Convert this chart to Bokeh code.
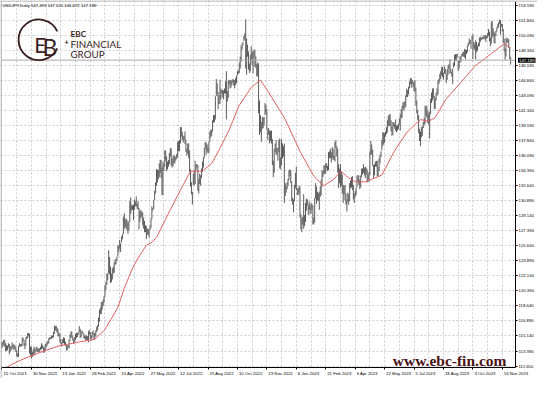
from bokeh.plotting import figure
from bokeh.models import Range1d, FixedTicker, Label, LabelSet, Span, PrintfTickFormatter, ColumnDataSource
from bokeh.embed import file_html
from bokeh.resources import INLINE
from bokeh.core.properties import value
import math

# ---------------- data ----------------
header_text = "USDJPY,Daily  147.493 147.520 146.672 147.189"
last_close = 147.189

date_labels = ["15 Oct 2021", "30 Nov 2021", "13 Jan 2022", "28 Feb 2022", "13 Apr 2022",
               "27 May 2022", "12 Jul 2022", "25 Aug 2022", "10 Oct 2022", "23 Nov 2022",
               "6 Jan 2023", "21 Feb 2023", "6 Apr 2023", "22 May 2023", "5 Jul 2023",
               "18 Aug 2023", "3 Oct 2023", "16 Nov 2023"]
bars_per_label = 32

price_ticks = [153.590, 151.840, 150.090, 148.340, 146.590, 144.840, 143.090, 141.340,
               139.590, 137.840, 136.090, 134.390, 132.640, 130.890, 129.140, 127.390,
               125.640, 123.890, 122.140, 120.390, 118.640, 116.890, 115.140, 113.390, 111.650]

# daily lows (one row per week, first bar = 15 Oct 2021)
bar_low = [
    113.7,
    113.9, 114.1, 113.9, 113.4, 113.4,
    113.5, 113.8, 113.0, 113.3, 113.5,
    113.8, 113.6, 113.5, 113.7, 113.3,
    112.8, 112.7, 112.7, 113.9, 113.9,
    113.9, 114.0, 114.6, 114.0, 113.6,
    114.0, 114.8, 114.9, 115.1, 113.1,
    112.9, 112.5, 112.7, 112.9, 112.9,
    113.1, 113.4, 113.3, 113.3, 113.2,
    113.3, 113.5, 113.6, 113.7, 113.2,
    113.2, 113.5, 113.8, 114.0, 114.2,
    114.3, 114.7, 114.8, 114.8, 114.9,
    115.0, 115.4, 115.8, 115.7, 115.5,
    115.1, 115.1, 114.4, 114.2, 113.9,
    114.3, 114.3, 114.1, 114.0, 113.5,
    113.45, 113.8, 113.7, 114.6, 115.0,
    114.9, 114.6, 114.2, 114.4, 114.7,
    114.9, 115.0, 115.3, 115.6, 114.9,
    115.0, 115.5, 115.3, 114.9, 114.8,
    114.6, 114.7, 114.7, 114.4, 115.3,
    114.8, 114.6, 114.9, 115.3, 114.7,
    114.8, 115.1, 115.6, 115.8, 116.2,
    116.8, 117.7, 117.7, 118.2, 118.6,
    119.0, 119.7, 120.5, 121.1, 121.6,
    122.4, 122.3, 121.3, 121.4, 121.7,
    122.4, 122.5, 123.4, 123.5, 123.9,
    124.4, 124.9, 125.3, 124.9, 126.0,
    126.4, 127.0, 127.6, 127.8, 127.6,
    127.4, 127.0, 127.4, 128.4, 129.3,
    129.7, 129.8, 128.6, 129.8, 130.2,
    130.2, 129.9, 129.8, 127.5, 128.4,
    128.8, 129.0, 128.0, 127.6, 127.2,
    127.2, 126.4, 126.9, 126.9, 126.6,
    127.4, 127.7, 128.7, 129.7, 129.9,
    130.9, 131.7, 132.6, 133.0, 133.4,
    133.6, 134.1, 133.5, 131.5, 131.5,
    134.3, 134.8, 135.5, 134.3, 134.5,
    134.8, 135.1, 136.0, 134.9, 134.7,
    134.9, 135.2, 135.2, 135.5, 135.7,
    135.9, 136.6, 136.6, 137.5, 138.3,
    137.9, 137.6, 137.9, 137.4, 136.5,
    136.1, 136.3, 135.8, 134.2, 132.5,
    131.6, 130.4, 132.7, 132.6, 132.8,
    134.4, 134.7, 132.0, 131.7, 132.8,
    132.6, 133.5, 134.2, 134.7, 135.8,
    136.9, 136.2, 136.6, 136.4, 136.4,
    137.7, 138.2, 138.4, 138.9, 139.9,
    140.0, 140.3, 143.0, 143.2, 141.5,
    142.1, 142.1, 142.6, 143.3, 142.9,
    142.6, 143.3, 143.3, 140.3, 142.4,
    142.8, 144.4, 143.9, 144.0, 144.3,
    144.6, 144.2, 143.9, 144.3, 144.5,
    145.4, 145.6, 145.7, 146.2, 147.0,
    148.4, 148.9, 149.4, 149.6, 146.2,
    145.5, 147.6, 146.1, 145.7, 145.9,
    147.2, 146.6, 145.7, 147.5, 146.4,
    146.3, 145.3, 145.3, 141.0, 138.5,
    138.8, 137.7, 139.2, 139.3, 139.6,
    140.8, 141.0, 139.1, 137.9, 138.5,
    137.5, 137.8, 137.5, 135.0, 133.6,
    134.1, 136.5, 136.2, 136.2, 135.5,
    136.5, 134.6, 134.5, 135.0, 135.8,
    136.0, 130.6, 131.4, 131.8, 132.2,
    132.6, 133.2, 133.7, 132.9, 130.8,
    130.4, 129.5, 130.8, 132.3, 132.1,
    131.5, 131.5, 131.7, 128.9, 127.5,
    127.2, 128.1, 127.6, 127.9, 128.4,
    129.7, 130.3, 129.2, 129.8, 129.3,
    129.4, 129.9, 128.1, 128.1, 128.3,
    131.1, 130.5, 130.9, 130.8, 129.8,
    131.3, 131.5, 132.5, 133.6, 133.9,
    134.0, 134.0, 134.6, 134.3, 134.4,
    135.8, 135.8, 135.3, 135.8, 135.6,
    135.6, 135.4, 137.0, 136.0, 134.1,
    132.3, 132.9, 132.4, 132.6, 131.7,
    130.6, 131.6, 130.9, 130.4, 129.6,
    130.7, 130.4, 130.8, 132.3, 132.4,
    132.1, 131.0, 130.6, 131.3, 131.5,
    132.4, 133.0, 132.7, 132.2, 132.4,
    133.6, 133.9, 134.1, 133.8, 133.5,
    133.9, 133.0, 133.0, 133.2, 133.8,
    136.2, 136.2, 134.9, 133.5, 133.8,
    134.8, 134.8, 133.7, 133.7, 134.3,
    135.2, 135.9, 136.7, 137.2, 137.4,
    137.6, 138.3, 138.6, 138.8, 139.5,
    139.6, 139.5, 138.9, 138.4, 138.5,
    139.5, 139.2, 139.0, 138.8, 139.0,
    139.2, 139.7, 139.0, 140.4, 140.5,
    141.5, 141.3, 141.6, 141.8, 142.9,
    142.9, 143.2, 143.9, 144.4, 144.0,
    144.4, 144.0, 143.6, 143.5, 141.9,
    141.0, 140.2, 138.7, 137.8, 137.2,
    138.2, 138.4, 139.3, 139.6, 139.8,
    140.7, 140.5, 139.9, 139.7, 138.1,
    140.9, 142.2, 142.5, 142.8, 141.5,
    141.5, 142.5, 143.1, 143.2, 144.4,
    144.7, 145.0, 145.4, 145.2, 144.9,
    145.6, 145.6, 144.5, 144.9, 145.5,
    146.2, 145.6, 145.7, 145.3, 144.4,
    146.3, 146.5, 147.1, 147.1, 147.5,
    145.9, 146.2, 146.9, 147.0, 147.6,
    147.6, 147.6, 147.5, 147.3, 147.9,
    148.1, 148.8, 149.0, 149.1, 148.5,
    149.5, 147.3, 148.5, 148.4, 147.3,
    148.1, 148.3, 148.8, 148.8, 149.3,
    149.5, 149.6, 149.6, 149.7, 149.6,
    149.3, 149.7, 149.8, 150.0, 149.4,
    148.8, 149.1, 149.8, 150.0, 149.2,
    149.1, 150.0, 150.5, 150.9, 151.0,
    151.4, 150.15, 151.1, 150.5, 149.2,
    148.2, 147.15, 147.6, 149.2, 149.2,
    148.6, 147.3, 146.67,
]

# daily highs (same layout)
bar_high = [
    114.45,
    114.45, 114.7, 114.7, 114.3, 114.1,
    114.0, 114.3, 114.2, 113.9, 114.0,
    114.4, 114.1, 114.2, 114.1, 113.9,
    113.5, 113.1, 114.0, 114.3, 114.2,
    114.2, 114.95, 114.95, 114.7, 114.3,
    115.0, 115.1, 115.5, 115.5, 115.4,
    113.9, 113.9, 113.3, 113.6, 113.9,
    113.6, 113.8, 113.9, 113.7, 113.7,
    113.7, 113.9, 114.3, 114.1, 113.9,
    113.8, 114.2, 114.3, 114.5, 114.5,
    114.9, 115.0, 115.0, 115.2, 115.2,
    115.6, 116.35, 116.3, 116.3, 116.1,
    115.9, 115.5, 115.4, 114.8, 114.4,
    114.8, 115.0, 114.9, 114.5, 114.1,
    114.0, 114.1, 114.7, 115.3, 115.7,
    115.6, 115.1, 114.8, 115.0, 115.4,
    115.5, 115.5, 115.6, 116.3, 116.0,
    115.7, 115.8, 115.6, 115.4, 115.2,
    115.2, 115.2, 115.1, 115.7, 115.8,
    115.6, 115.2, 115.6, 115.8, 115.5,
    115.5, 115.8, 116.2, 116.4, 117.3,
    118.2, 118.45, 119.1, 119.1, 119.4,
    119.8, 121.0, 121.4, 122.4, 122.4,
    125.1, 124.3, 123.2, 122.4, 123.0,
    123.2, 123.7, 124.0, 124.1, 124.4,
    125.7, 125.6, 126.3, 125.9, 126.7,
    127.0, 129.0, 129.4, 128.7, 128.8,
    128.6, 128.3, 128.5, 130.8, 131.25,
    130.4, 130.3, 130.4, 131.0, 130.8,
    131.35, 130.5, 130.8, 130.0, 129.6,
    129.8, 129.6, 129.5, 128.9, 128.5,
    128.0, 127.9, 127.6, 127.6, 127.4,
    128.0, 128.8, 130.2, 130.0, 130.9,
    132.0, 133.0, 134.5, 134.5, 134.4,
    135.2, 135.6, 135.6, 134.7, 135.4,
    135.1, 136.7, 136.7, 136.0, 135.4,
    135.6, 136.4, 137.0, 136.9, 135.7,
    136.0, 136.2, 136.0, 136.0, 136.3,
    137.7, 137.8, 137.9, 139.4, 139.4,
    138.9, 138.4, 138.4, 138.9, 137.9,
    136.9, 137.5, 137.5, 136.7, 134.5,
    133.0, 131.9, 134.0, 134.4, 135.5,
    135.1, 135.1, 135.0, 133.4, 134.0,
    133.8, 134.6, 135.4, 135.9, 137.0,
    137.7, 137.6, 137.4, 137.0, 137.7,
    138.9, 139.1, 139.1, 140.2, 140.8,
    140.8, 143.0, 145.0, 144.5, 143.5,
    143.1, 144.9, 143.9, 143.7, 143.7,
    143.7, 143.9, 144.7, 145.9, 143.6,
    144.8, 144.9, 144.85, 144.9, 144.8,
    145.0, 144.9, 144.9, 145.1, 145.4,
    145.9, 146.0, 146.9, 147.6, 148.9,
    149.1, 149.3, 150.0, 150.3, 151.95,
    149.7, 149.0, 148.2, 146.8, 147.8,
    148.8, 148.2, 148.2, 148.4, 148.4,
    147.6, 146.7, 146.9, 146.8, 142.5,
    140.8, 140.0, 140.6, 140.5, 140.6,
    142.2, 142.0, 141.5, 139.2, 139.3,
    139.0, 139.0, 139.0, 138.0, 135.5,
    136.9, 137.5, 137.9, 137.0, 137.0,
    137.9, 138.1, 135.9, 138.0, 137.5,
    137.2, 137.5, 132.9, 132.6, 133.0,
    133.4, 134.4, 134.5, 134.4, 133.1,
    131.2, 131.0, 132.7, 134.1, 134.8,
    132.3, 132.3, 132.6, 132.5, 129.3,
    128.9, 129.0, 131.6, 129.2, 130.6,
    131.1, 131.0, 130.4, 130.8, 130.3,
    130.6, 130.5, 130.3, 128.9, 131.2,
    132.9, 132.5, 131.9, 131.7, 131.9,
    132.5, 133.3, 134.4, 134.3, 135.0,
    134.9, 135.2, 135.2, 134.9, 136.5,
    136.6, 136.9, 136.5, 137.1, 136.9,
    136.1, 137.7, 137.9, 137.2, 136.9,
    135.1, 134.6, 135.1, 134.2, 133.9,
    132.7, 132.6, 132.7, 131.7, 131.0,
    131.8, 131.6, 132.9, 133.2, 133.6,
    133.7, 132.7, 131.7, 132.0, 132.4,
    133.8, 133.8, 133.8, 133.3, 133.8,
    134.6, 134.6, 135.1, 134.7, 134.8,
    134.7, 134.5, 133.9, 134.2, 136.6,
    137.8, 137.4, 136.8, 135.0, 135.1,
    135.4, 135.5, 135.5, 134.8, 135.8,
    136.2, 136.6, 137.9, 138.8, 138.8,
    138.7, 138.9, 139.4, 140.2, 140.7,
    140.9, 140.9, 140.2, 139.5, 140.0,
    140.0, 139.8, 140.3, 139.6, 139.6,
    139.8, 140.4, 140.9, 141.5, 141.9,
    142.3, 142.3, 142.4, 143.1, 143.9,
    143.7, 144.1, 144.7, 145.1, 145.1,
    144.9, 144.7, 144.6, 144.9, 144.0,
    142.5, 141.4, 140.8, 139.2, 138.9,
    139.4, 139.5, 140.0, 140.5, 141.9,
    141.9, 141.8, 141.3, 140.9, 141.2,
    142.7, 143.4, 143.9, 143.9, 143.0,
    142.8, 143.4, 143.9, 144.8, 145.0,
    145.6, 145.9, 146.4, 146.4, 145.7,
    146.5, 146.2, 145.6, 146.1, 146.6,
    146.7, 147.3, 146.2, 145.8, 146.2,
    146.9, 147.8, 147.9, 147.9, 147.9,
    147.1, 147.2, 147.7, 147.6, 147.95,
    148.1, 148.2, 148.5, 148.4, 148.4,
    148.9, 149.2, 149.7, 149.5, 149.5,
    150.0, 150.2, 149.3, 149.1, 149.5,
    149.3, 148.9, 149.2, 149.8, 149.9,
    149.8, 149.9, 149.9, 150.1, 150.0,
    150.1, 150.0, 150.3, 150.8, 150.5,
    149.8, 151.7, 151.7, 150.9, 150.5,
    150.3, 150.6, 151.0, 151.4, 151.6,
    151.9, 151.8, 151.4, 151.4, 150.8,
    149.7, 148.5, 149.7, 149.8, 149.7,
    149.6, 148.7, 147.52,
]

# red moving average, read at sample bars
ma_bar = [0, 9.5, 20, 41, 62, 83.5, 101, 112, 126, 133, 141.5, 147, 157, 163, 168, 182,
          196.5, 205, 217.5, 228, 236.5, 247, 257.5, 271.5, 281, 289.5, 307.5, 324, 339,
          349.5, 360, 368.5, 377, 384.5, 395, 405.5, 413, 426.5, 440.5, 455, 463.5, 471,
          482.5, 497.5, 514.5, 532.5, 546, 553]
ma_value = [111.2, 111.76, 112.32, 113.21, 113.99, 114.43, 114.77, 115.88, 118.45, 120.68,
            122.91, 124.02, 125.69, 126.03, 126.58, 129.6, 132.6, 134.28, 134.28, 135.17,
            136.84, 139.07, 141.86, 144.08, 144.86, 143.52, 140.4, 136.61, 133.71, 132.6,
            133.27, 134.28, 133.5, 133.05, 133.05, 133.5, 133.83, 136.61, 138.84, 140.29,
            140.07, 140.51, 142.63, 144.42, 146.53, 147.98, 149.1, 148.6]

assert len(bar_low) == len(bar_high)

# ---------------- layout ----------------
W, H = 537, 378                 # figure size
SX, SY = W / 553.0, H / 394.0   # reference -> figure scale
CH_LEFT, CH_TOP = 1, 1          # chart area inside the figure (px)
CH_W, CH_H = 514, 366
x0, x1 = -0.5, 558.3            # bar range shown in the chart area
y0, y1 = 111.48, 154.0          # price range shown in the chart area

ppx = CH_W / (x1 - x0)
ppy = CH_H / (y1 - y0)
X0 = x0 - CH_LEFT / ppx
X1 = x1 + (W - CH_LEFT - CH_W) / ppx
Y1 = y1 + CH_TOP / ppy
Y0 = y0 - (H - CH_TOP - CH_H) / ppy

def rx(ref_px):   # reference pixel x -> data x
    return X0 + ref_px * SX / ppx

def ry(ref_py):   # reference pixel y -> data y
    return Y1 - ref_py * SY / ppy

GRID = "#cdcdcd"
AXIS_FONT = "Liberation Sans"
FS = "4.3px"
LOGO = "#3b1e1e"

n = len(bar_low)
idx = list(range(n))
label_bars = [i * bars_per_label for i in range(len(date_labels))]
minor_bars = [b + bars_per_label // 2 for b in label_bars]

p = figure(width=W, height=H, output_backend="svg", toolbar_location=None,
           x_range=Range1d(X0, X1), y_range=Range1d(Y0, Y1),
           y_axis_location="right", x_axis_location="below",
           min_border_left=0, min_border_top=0, min_border_right=0, min_border_bottom=0)
p.background_fill_color = "white"
p.border_fill_color = "white"
p.outline_line_color = None

# axes drawn at the edges of the chart area
p.xaxis.ticker = FixedTicker(ticks=label_bars, minor_ticks=minor_bars)
p.xaxis.fixed_location = y0
p.xaxis.bounds = (x0, x1)
p.xaxis.major_label_text_color = None
p.xaxis.major_label_text_font_size = "1px"
p.yaxis.ticker = FixedTicker(ticks=price_ticks)
p.yaxis.formatter = PrintfTickFormatter(format="%.3f")
p.yaxis.fixed_location = x1
p.yaxis.bounds = (y0, y1)
for ax in (p.xaxis[0], p.yaxis[0]):
    ax.axis_line_color = "black"
    ax.major_tick_line_color = "black"
    ax.major_tick_out = 2
    ax.major_tick_in = 0
    ax.minor_tick_line_color = None
    ax.major_label_standoff = 1
ax = p.yaxis[0]
ax.major_label_text_font_size = FS
ax.major_label_text_font = AXIS_FONT
ax.major_label_text_color = "black"

# grid
p.xgrid.grid_line_color = GRID
p.xgrid.grid_line_dash = "2 2"
p.xgrid.minor_grid_line_color = GRID
p.xgrid.minor_grid_line_dash = "2 2"
p.ygrid.grid_line_color = GRID
p.ygrid.grid_line_dash = "2 2"

# bars, moving average, bid line
p.segment(x0=idx, y0=bar_low, x1=idx, y1=bar_high, line_color="#5a5a5a", line_width=1)
p.line(ma_bar, ma_value, line_color="#e0625f", line_width=1)
p.segment(x0=[x0], y0=[last_close], x1=[x1], y1=[last_close], line_color="#a8a8a8", line_width=1)

# white scale areas (price scale on the right, time scale below)
p.quad(left=[x1, X0], right=[X1, x1], bottom=[Y0, Y0], top=[Y1, y0],
       fill_color="white", line_color=None)

# frame border (top and left)
p.add_layout(Span(location=X0 + 0.5 / ppx, dimension="height", line_color="#a0a0a0", line_width=1))
p.add_layout(Span(location=Y1 - 0.5 / ppy, dimension="width", line_color="#a0a0a0", line_width=1))

# current price box on the price scale
box = Label(x=x1, y=last_close, x_offset=2.5, text="%.3f" % last_close,
            text_font=AXIS_FONT, text_font_size=FS, text_color="white",
            text_align="left", text_baseline="middle",
            background_fill_color="black")
if "padding" in Label.properties():
    box.padding = 1
p.add_layout(box)

# date labels (left aligned at their tick, as in MT4)
date_src = ColumnDataSource(dict(bar=label_bars, text=date_labels))
p.add_layout(LabelSet(x="bar", y=y0, text="text", source=date_src, x_offset=1.5, y_offset=-6,
                      text_align="left", text_baseline="middle",
                      text_font=value(AXIS_FONT), text_font_size=FS, text_color="black"))

# header
p.add_layout(Label(x=rx(2), y=ry(5), text=header_text,
                   text_font=AXIS_FONT, text_font_size=FS, text_color="black",
                   text_align="left", text_baseline="middle"))

# logo
p.arc(x=[rx(39.5)], y=[ry(41)], radius=20.3, radius_units="screen",
      start_angle=math.radians(25), end_angle=math.radians(335), direction="anticlock",
      line_color=LOGO, line_width=1.8)
p.add_layout(Label(x=rx(41), y=ry(46), text="E", text_font="Lato", text_font_size="21px",
                   text_color=LOGO, text_align="center", text_baseline="middle"))
p.add_layout(Label(x=rx(51), y=ry(48), text="B", text_font="Lato", text_font_size="23px",
                   text_color=LOGO, text_align="center", text_baseline="middle"))
p.add_layout(Label(x=rx(68), y=ry(43.5), text="+", text_font="Lato", text_font_size="8px",
                   text_font_style="bold", text_color=LOGO, text_align="center", text_baseline="middle"))
p.add_layout(Label(x=rx(72), y=ry(35.3), text="EBC", text_font="Lato", text_font_size="8.3px",
                   text_font_style="bold", text_color=LOGO, text_align="left", text_baseline="alphabetic"))
p.add_layout(Label(x=rx(72), y=ry(45.3), text="FINANCIAL", text_font="Lato", text_font_size="9.8px",
                   text_color=LOGO, text_align="left", text_baseline="alphabetic"))
p.add_layout(Label(x=rx(72), y=ry(55.3), text="GROUP", text_font="Lato", text_font_size="9.8px",
                   text_color=LOGO, text_align="left", text_baseline="alphabetic"))

# watermark
p.add_layout(Label(x=rx(521), y=ry(375), text="www.ebc-fin.com", text_font="Liberation Serif",
                   text_font_size="15.5px", text_font_style="bold", text_color="#4d1313",
                   text_align="right", text_baseline="alphabetic"))

open("out.html", "w").write(file_html(p, INLINE))
